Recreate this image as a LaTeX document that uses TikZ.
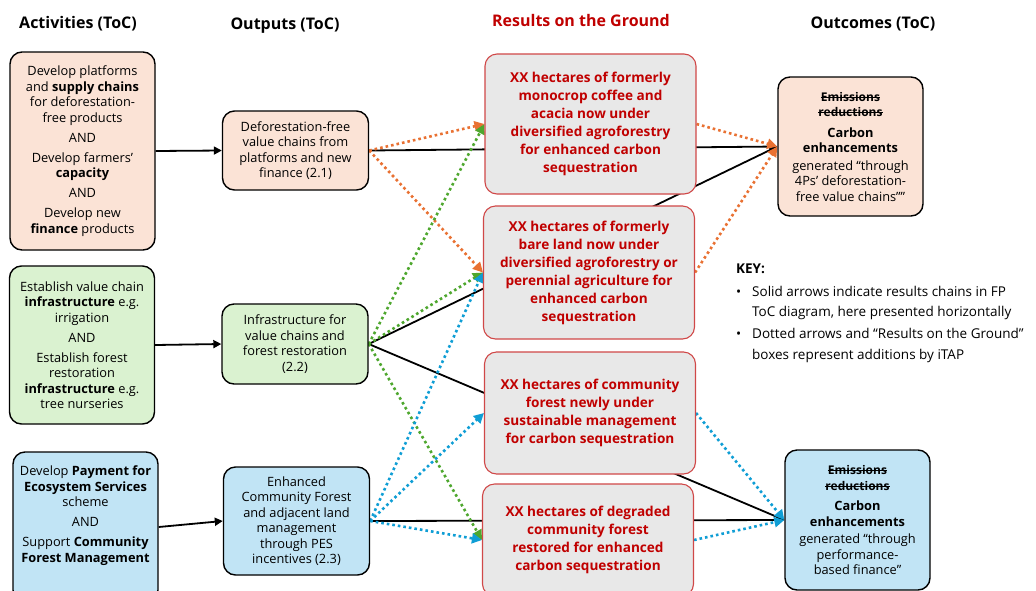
\documentclass[tikz,border=0pt]{standalone}
\usepackage{fontspec}
\setmainfont{Open Sans}
\usetikzlibrary{arrows.meta,backgrounds}
\definecolor{ink}{HTML}{000000}
\definecolor{peach}{HTML}{FBE3D6}
\definecolor{mint}{HTML}{DAF2D0}
\definecolor{sky}{HTML}{C1E4F5}
\definecolor{stone}{HTML}{E8E8E8}
\definecolor{crimson}{HTML}{C00000}
\definecolor{rim}{HTML}{D04848}
\definecolor{tang}{HTML}{E97132}
\definecolor{leaf}{HTML}{4EA72E}
\definecolor{azure}{HTML}{0F9ED5}
\tikzset{
  basebox/.style={draw=ink,line width=1.4pt,rounded corners=12pt,align=center,font=\fontsize{12.8}{15.5}\selectfont,inner sep=4pt},
  peachbox/.style={basebox,fill=peach},
  mintbox/.style={basebox,fill=mint},
  skybox/.style={basebox,fill=sky},
  groundbox/.style={basebox,draw=rim,line width=1.1pt,fill=stone,text=crimson,font=\bfseries\fontsize{13.6}{18}\selectfont},
  head/.style={font=\bfseries\fontsize{16}{18}\selectfont},
  keytext/.style={align=left,font=\fontsize{13.5}{20.5}\selectfont,inner sep=0pt},
  chain/.style={-{Triangle[length=8pt,width=8pt]},line width=1.8pt,draw=ink},
  dotlink/.style={-{Triangle[length=10pt,width=10pt]},line width=2.6pt,dash pattern=on 2.6pt off 3pt}
}
\newlength{\strikelen}
\newcommand{\strike}[1]{{\fontsize{12}{12}\selectfont\bfseries\settowidth{\strikelen}{#1}\makebox[0pt][l]{\rule[0.3em]{\strikelen}{0.8pt}}#1}}

\begin{document}
\begin{tikzpicture}[x=1pt,y=-1pt,
    actbox/.style={minimum width=145pt},
    outbox/.style={minimum width=146pt},
    gndbox/.style={groundbox,minimum width=211pt},
    comebox/.style={minimum width=145pt,minimum height=139pt}
  ]
  \useasboundingbox (0,0) rectangle (1036,590);

  \node[head] (acthead) at (78,24) {Activities (ToC)};
  \node[head] (outhead) at (285,26) {Outputs (ToC)};
  \node[head,text=crimson] (gndhead) at (581,20) {Results on the Ground};
  \node[head] (comehead) at (873,24) {Outcomes (ToC)};

  \node[peachbox,actbox,minimum height=198pt] (devact) at (82.5,151) {Develop platforms\\and \textbf{supply chains}\\for deforestation-\\free products\\[4.5pt]AND\\[4.5pt]Develop farmers’\\\textbf{capacity}\\[4.5pt]AND\\[4.5pt]Develop new\\\textbf{finance} products};
  \node[mintbox,actbox,minimum height=158pt] (infact) at (82,345) {Establish value chain\\\textbf{infrastructure} e.g.\\irrigation\\[4.5pt]AND\\[4.5pt]Establish forest\\restoration\\\textbf{infrastructure} e.g.\\tree nurseries};
  \node[skybox,actbox,minimum height=150pt] (pesact) at (85.5,527) {Develop \textbf{Payment for}\\\textbf{Ecosystem Services}\\scheme\\[4.5pt]AND\\[4.5pt]Support \textbf{Community}\\\textbf{Forest Management}\\\rule{0pt}{22pt}};

  \node[peachbox,outbox,minimum height=79pt] (devout) at (295.5,150.5) {Deforestation-free\\value chains from\\platforms and new\\finance (2.1)};
  \node[mintbox,outbox,minimum height=80pt] (infout) at (295,344) {Infrastructure for\\value chains and\\forest restoration\\(2.2)};
  \node[skybox,outbox,minimum height=108pt] (pesout) at (296.5,521) {Enhanced\\Community Forest\\and adjacent land\\management\\through PES\\incentives (2.3)};

  \node[gndbox,minimum height=140pt] (coffee) at (590.5,124) {XX hectares of formerly\\monocrop coffee and\\acacia now under\\diversified agroforestry\\for enhanced carbon\\sequestration};
  \node[gndbox,minimum height=133pt] (bare) at (589,272.5) {XX hectares of formerly\\bare land now under\\diversified agroforestry or\\perennial agriculture for\\enhanced carbon\\sequestration};
  \node[gndbox,minimum height=122pt] (community) at (590,413) {XX hectares of community\\forest newly under\\sustainable management\\for carbon sequestration};
  \node[gndbox,minimum height=112pt] (degraded) at (588,540) {XX hectares of degraded\\community forest\\restored for enhanced\\carbon sequestration};

  \node[peachbox,comebox] (dvcome) at (850.5,146.5) {\strike{Emissions}\\\strike{reductions}\\[5pt]\textbf{Carbon}\\\textbf{enhancements}\\[2pt]generated “through\\4Ps’ deforestation-\\free value chains””};
  \node[skybox,comebox,minimum height=140pt] (pescome) at (857.5,520) {\strike{Emissions}\\\strike{reductions}\\[5pt]\textbf{Carbon}\\\textbf{enhancements}\\[2pt]generated “through\\performance-\\based finance”};

  \node[keytext,anchor=north west] (key) at (736,264) {\textbf{KEY:}\\[2pt]\makebox[16pt][l]{\textbullet}Solid arrows indicate results chains in FP\\\hspace*{16pt}ToC diagram, here presented horizontally\\[1.5pt]\makebox[16pt][l]{\textbullet}Dotted arrows and “Results on the Ground”\\\hspace*{16pt}boxes represent additions by iTAP};

  \begin{scope}[on background layer]
    \fill[white] (0,0) rectangle (1036,590);
    \foreach \a/\b in {devact/devout,infact/infout,pesact/pesout,devout/dvcome,infout/dvcome,infout/pescome,pesout/pescome}
      \draw[chain] (\a.east) -- (\b.west);
    \foreach \a/\b in {devout/coffee,devout/bare,coffee/dvcome,bare/dvcome}
      \draw[dotlink,tang] (\a.east) -- (\b.west);
    \foreach \b in {coffee,bare,degraded}
      \draw[dotlink,leaf] (infout.east) -- (\b.west);
    \foreach \a/\b in {pesout/bare,pesout/community,pesout/degraded,community/pescome,degraded/pescome}
      \draw[dotlink,azure] (\a.east) -- (\b.west);
  \end{scope}
\end{tikzpicture}
\end{document}
